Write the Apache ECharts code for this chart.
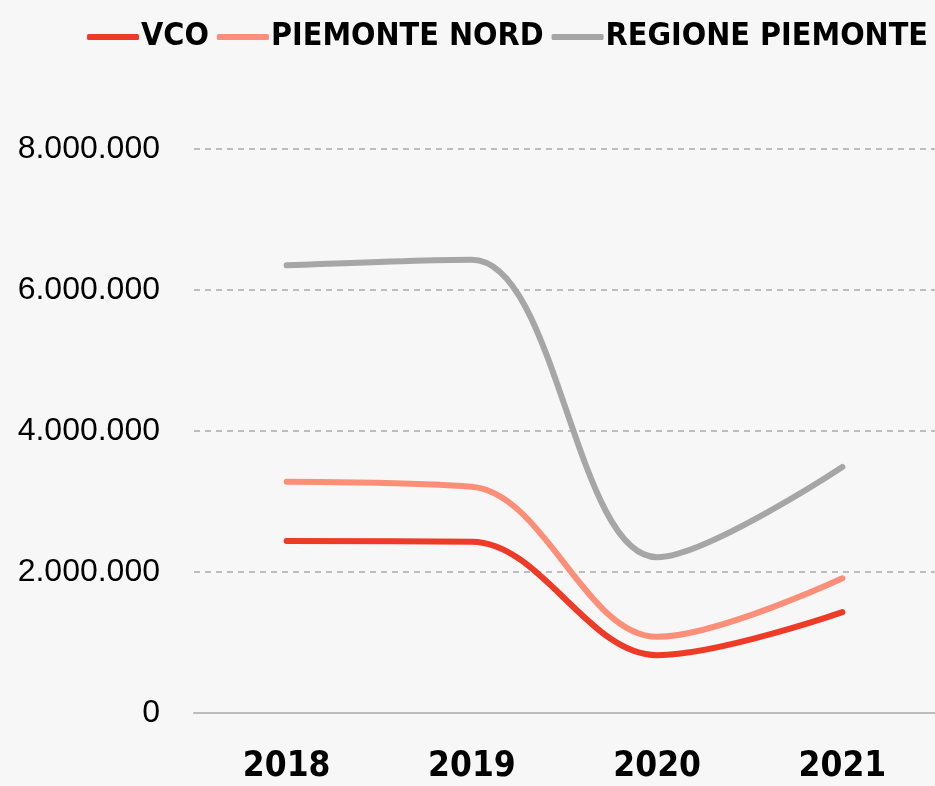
<!DOCTYPE html>
<html>
<head>
<meta charset="utf-8">
<style>
  html, body { margin: 0; padding: 0; background: #f7f7f7; }
  #chart { width: 935px; height: 786px; }
</style>
<script src="https://cdn.jsdelivr.net/npm/echarts@6/dist/echarts.min.js"></script>
</head>
<body>
<div id="chart"></div>
<script>
const years = ['2018', '2019', '2020', '2021'];
const vco = [2440000, 2430000, 820000, 1430000];
const piemonteNord = [3280000, 3210000, 1080000, 1910000];
const regionePiemonte = [6350000, 6430000, 2210000, 3490000];

const narrow = '"Liberation Sans Narrow", "DejaVu Sans Condensed", "Arial Narrow", sans-serif';

const chart = echarts.init(document.getElementById('chart'));

const fmt = (v) => String(v).replace(/\B(?=(\d{3})+(?!\d))/g, '.');

const line = (name, data, color) => ({
  name,
  type: 'line',
  data,
  smooth: 0.35,
  symbol: 'none',
  lineStyle: { color, width: 6, cap: 'round' },
  itemStyle: { color }
});

chart.setOption({
  backgroundColor: '#f7f7f7',
  animation: false,
  legend: {
    top: 16,
    right: 2,
    itemWidth: 52,
    itemHeight: 6,
    itemGap: 8,
    icon: 'roundRect',
    textStyle: {
      fontFamily: narrow,
      fontWeight: 'bold',
      fontSize: 32,
      color: '#000',
      padding: [0, 0, 0, -3]
    }
  },
  grid: { left: 194, right: 0, top: 149, bottom: 73 },
  xAxis: {
    type: 'category',
    data: years,
    axisLine: { lineStyle: { color: '#bbb', width: 2 } },
    axisTick: { alignWithLabel: true, length: 10, lineStyle: { color: '#aaa', width: 2 } },
    axisLabel: {
      margin: 36,
      fontFamily: narrow,
      fontWeight: 'bold',
      fontSize: 35,
      color: '#000'
    }
  },
  yAxis: {
    type: 'value',
    min: 0,
    max: 8000000,
    interval: 2000000,
    axisLabel: {
      margin: 34,
      fontFamily: '"Liberation Sans", sans-serif',
      fontSize: 32,
      color: '#000',
      formatter: fmt
    },
    splitLine: { lineStyle: { color: '#aaa', width: 1.5, type: [6, 5] } }
  },
  series: [
    line('VCO', vco, '#ee3b28'),
    line('PIEMONTE NORD', piemonteNord, '#fd8f78'),
    line('REGIONE PIEMONTE', regionePiemonte, '#a6a6a6')
  ]
});
</script>
</body>
</html>
